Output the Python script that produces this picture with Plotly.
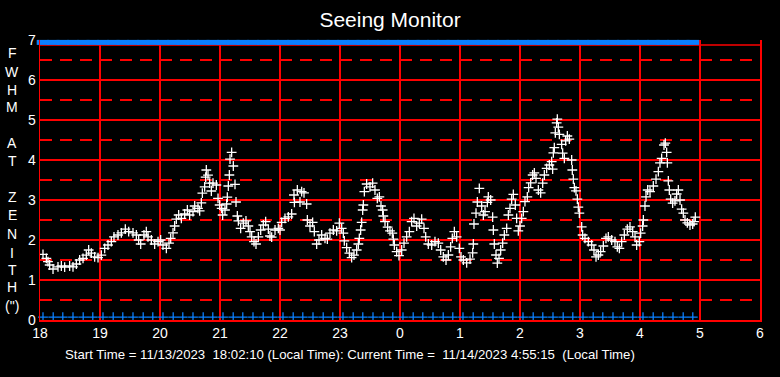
import plotly.graph_objects as go

# FWHM samples: time in hours since 18:00 on 11/13 (24+ = next day), value in arcsec
times = [
    18.05, 18.106, 18.133, 18.161, 18.217, 18.30, 18.356, 18.411, 18.494, 18.55,
    18.606, 18.661, 18.717, 18.772, 18.811, 18.856, 18.911, 18.967, 19.022, 19.078,
    19.133, 19.189, 19.233, 19.30, 19.356, 19.422, 19.478, 19.55, 19.606, 19.644,
    19.678, 19.733, 19.772, 19.80, 19.856, 19.911, 19.967, 20.011, 20.05, 20.106,
    20.15, 20.178, 20.217, 20.244, 20.272, 20.311, 20.356, 20.411, 20.456, 20.494,
    20.55, 20.578, 20.633, 20.661, 20.689, 20.706, 20.744, 20.761, 20.772, 20.80,
    20.828, 20.856, 20.883, 20.939, 20.967, 20.994,
    21.194, 21.167, 21.222, 21.156, 21.139, 21.25, 21.122, 21.111, 21.267, 21.028,
    21.083, 21.044, 21.289, 21.306, 21.344, 21.389, 21.433, 21.472, 21.50, 21.528,
    21.567, 21.60, 21.639, 21.678, 21.722, 21.761, 21.806, 21.833, 21.861, 21.917,
    21.972, 22.0, 22.028, 22.083, 22.139, 22.194, 22.233, 22.24, 22.289, 22.333,
    22.361, 22.40, 22.444, 22.456, 22.50, 22.544, 22.572, 22.611, 22.65, 22.694,
    22.75, 22.789, 22.833, 22.889, 22.944, 22.989, 23.028, 23.056, 23.072, 23.111,
    23.156, 23.194, 23.233, 23.278, 23.306, 23.322, 23.344, 23.361, 23.378, 23.389,
    23.406, 23.444, 23.50, 23.544, 23.583, 23.622, 23.656, 23.683, 23.711, 23.722,
    23.75, 23.794, 23.833, 23.872, 23.889, 23.906, 23.944, 23.983,
    24.028, 24.067, 24.111, 24.156, 24.194, 24.233, 24.278, 24.322, 24.361, 24.40,
    24.428, 24.472, 24.528, 24.583, 24.639, 24.678, 24.722, 24.767, 24.806, 24.844,
    24.872, 24.906, 24.944, 24.989, 25.017, 25.056, 25.111, 25.167, 25.211, 25.222,
    25.233, 25.267, 25.289, 25.322, 25.361, 25.389, 25.417, 25.456, 25.472, 25.511,
    25.544, 25.556, 25.572, 25.60, 25.622, 25.65, 25.678, 25.711, 25.739, 25.778,
    25.806, 25.833, 25.861, 25.889, 25.922, 25.944, 25.972, 26.0, 26.028, 26.056,
    26.083, 26.122, 26.144, 26.178, 26.211, 26.239, 26.267, 26.306, 26.344, 26.378,
    26.406, 26.444, 26.489, 26.528, 26.544, 26.556, 26.572, 26.589, 26.611, 26.622,
    26.639, 26.656, 26.694, 26.711, 26.739, 26.761, 26.789, 26.822, 26.861, 26.872,
    26.889, 26.906, 26.933, 26.956, 26.972, 26.989,
    27.028, 27.044, 27.083, 27.139, 27.194, 27.233, 27.267, 27.306, 27.344, 27.389,
    27.433, 27.472, 27.528, 27.583, 27.622, 27.656, 27.694, 27.739, 27.789, 27.833,
    27.878, 27.917, 27.944, 27.989, 28.011, 28.044, 28.056, 28.083, 28.10, 28.128,
    28.167, 28.222, 28.267, 28.306, 28.333, 28.361, 28.40, 28.422, 28.444, 28.456,
    28.472, 28.489, 28.511, 28.544, 28.583, 28.611, 28.639, 28.667, 28.694, 28.722,
    28.75, 28.789, 28.833, 28.878, 28.90, 28.922,
]
fwhm = [
    1.64, 1.54, 1.46, 1.375, 1.275, 1.33, 1.35, 1.32, 1.35, 1.33,
    1.40, 1.50, 1.54, 1.62, 1.75, 1.67, 1.58, 1.56, 1.62, 1.79,
    1.875, 1.96, 2.08, 2.125, 2.18, 2.27, 2.21, 2.18, 2.125, 2.0,
    1.90, 2.125, 2.21, 2.08, 2.0, 1.90, 1.96, 2.0, 1.875, 1.79,
    1.92, 2.04, 2.18, 2.35, 2.52, 2.625, 2.54, 2.65, 2.75, 2.625,
    2.71, 2.85, 2.79, 2.73, 2.93, 3.17, 3.33, 3.57, 3.75, 3.62,
    3.42, 3.225, 3.42, 3.375, 3.04, 2.875,
    4.19, 4.02, 3.85, 3.625, 3.35, 3.39, 3.07, 2.90, 2.95, 2.79,
    2.75, 2.625, 2.60, 2.48, 2.29, 2.42, 2.48, 2.35, 2.21, 2.08,
    1.96, 1.90, 2.08, 2.25, 2.375, 2.46, 2.27, 2.10, 2.07, 2.25,
    2.29, 2.25, 2.44, 2.54, 2.58, 2.65, 3.125, 2.94, 3.25, 2.95,
    3.21, 3.18, 2.90, 2.50, 2.35, 2.44, 2.21, 1.90, 2.0, 2.125,
    2.04, 2.02, 2.17, 2.25, 2.23, 2.42, 2.29, 2.17, 1.98, 1.81,
    1.67, 1.56, 1.62, 1.75, 1.90, 2.04, 2.25, 2.44, 2.75, 2.875,
    3.21, 3.40, 3.33, 3.42, 3.25, 3.04, 3.08, 2.85, 2.75, 2.60,
    2.46, 2.32, 2.23, 2.17, 2.02, 1.875, 1.71, 1.61,
    1.75, 1.92, 2.08, 2.21, 2.46, 2.54, 2.35, 2.42, 2.52, 2.29,
    2.08, 1.90, 1.875, 1.96, 1.92, 1.75, 1.58, 1.50, 1.625, 1.83,
    2.04, 2.21, 2.08, 1.79, 1.58, 1.50, 1.43, 1.52, 1.68, 1.90,
    2.40, 2.67, 2.95, 3.29, 2.85, 2.625, 2.71, 2.94, 3.08, 3.0,
    2.57, 2.25, 1.90, 1.625, 1.42, 1.54, 1.75, 1.92, 2.125, 2.29,
    2.625, 2.79, 3.02, 3.14, 2.875, 2.54, 2.23, 2.35, 2.54, 2.71,
    2.96, 3.08, 3.31, 3.43, 3.625, 3.68, 3.54, 3.25, 3.18, 3.42,
    3.625, 3.79, 3.875, 3.96, 3.77, 4.18, 4.31, 4.68, 4.93, 5.02,
    4.82, 4.64, 4.39, 4.17, 4.04, 4.48, 4.60, 4.52, 4.0, 3.75,
    3.52, 3.31, 3.23, 3.02, 2.82, 2.67,
    2.33, 2.125, 2.04, 1.96, 1.875, 1.75, 1.58, 1.625, 1.71, 1.85,
    2.04, 2.08, 2.0, 1.96, 1.83, 1.79, 1.96, 2.125, 2.27, 2.33,
    2.21, 2.08, 1.875, 1.96, 2.17, 2.35, 2.50, 2.85, 3.08, 3.25,
    3.21, 3.35, 3.52, 3.71, 3.93, 4.04, 4.375, 4.42, 4.19, 3.93,
    3.48, 3.25, 3.02, 2.92, 2.98, 3.15, 3.25, 3.0, 2.77, 2.67,
    2.50, 2.43, 2.375, 2.40, 2.46, 2.57,
]

# 10-minute status markers (blue)
status_times = [
    18.05, 18.22, 18.38, 18.55, 18.72, 18.88,
    19.05, 19.22, 19.38, 19.55, 19.72, 19.88,
    20.05, 20.22, 20.38, 20.55, 20.72, 20.88,
    21.05, 21.22, 21.38, 21.55, 21.72, 21.88,
    22.05, 22.22, 22.38, 22.55, 22.72, 22.88,
    23.05, 23.22, 23.38, 23.55, 23.72, 23.88,
    24.05, 24.22, 24.38, 24.55, 24.72, 24.88,
    25.05, 25.22, 25.38, 25.55, 25.72, 25.88,
    26.05, 26.22, 26.38, 26.55, 26.72, 26.88,
    27.05, 27.22, 27.38, 27.55, 27.72, 27.88,
    28.05, 28.22, 28.38, 28.55, 28.72, 28.88,
]
status_top_level = 6.94
status_bottom_level = 0.07
frame_top_level = 6.875

x_tick_vals = [18, 19, 20, 21, 22, 23, 24, 25, 26, 27, 28, 29, 30]
x_tick_text = ["18", "19", "20", "21", "22", "23", "0", "1", "2", "3", "4", "5", "6"]
y_tick_vals = [0, 1, 2, 3, 4, 5, 6, 7]
y_tick_text = ["0", "1", "2", "3", "4", "5", "6", "7"]
y_label_letters = ["F", "W", "H", "M", "A", "T", "Z", "E", "N", "I", "T", "H", '(")']
y_label_px = [53, 71.5, 90, 107, 143, 161, 197, 215, 234, 252.7, 270, 287, 306]

title_text = "Seeing Monitor"
footer_text = ("Start Time = 11/13/2023\u00a0\u00a018:02:10 (Local Time): Current Time =\u00a0\u00a0"
               "11/14/2023 4:55:15\u00a0\u00a0(Local Time)")

FONT = "Arial, Liberation Sans, sans-serif"
RED = "#FF0000"
BLUE = "#0A80FF"

W, H = 780, 377
ML, MR, MT, MB = 40, 20, 40, 57
PW = W - ML - MR
PH = H - MT - MB


def px_x(page_x):
    return (page_x - ML) / PW


def px_y(page_y):
    return (H - MB - page_y) / PH


fig = go.Figure()

fig.add_trace(go.Scatter(
    x=status_times, y=[status_top_level] * len(status_times), mode="markers",
    marker=dict(symbol="line-ew-open", size=9, color=BLUE, line=dict(color=BLUE, width=5)),
    cliponaxis=False, hoverinfo="skip", showlegend=False))
fig.add_trace(go.Scatter(
    x=status_times, y=[status_bottom_level] * len(status_times), mode="markers",
    marker=dict(symbol="cross-thin-open", size=7, color=BLUE, line=dict(color=BLUE, width=1.3)),
    cliponaxis=False, hoverinfo="skip", showlegend=False))
fig.add_trace(go.Scatter(
    x=times, y=fwhm, mode="markers",
    marker=dict(symbol="cross-thin-open", size=7, color="white", line=dict(color="white", width=1.3)),
    showlegend=False))

annotations = []
for letter, ypx in zip(y_label_letters, y_label_px):
    annotations.append(dict(
        text=letter, xref="paper", yref="paper",
        x=px_x(12), y=px_y(ypx),
        xanchor="center", yanchor="middle", showarrow=False,
        font=dict(family=FONT, size=14, color="white")))
annotations.append(dict(
    text=footer_text, xref="paper", yref="paper", x=px_x(63), y=px_y(354),
    xanchor="left", yanchor="middle", showarrow=False,
    font=dict(family=FONT, size=13.2, color="white")))

fig.update_layout(
    width=W, height=H,
    margin=dict(l=ML, r=MR, t=MT, b=MB),
    paper_bgcolor="black", plot_bgcolor="black",
    title=dict(text=title_text, x=0.5, xanchor="center",
               y=1 - 20 / H, yanchor="middle",
               font=dict(family=FONT, size=21, color="white")),
    xaxis=dict(range=[18, 30], tickvals=x_tick_vals, ticktext=x_tick_text,
               showgrid=True, gridcolor=RED, gridwidth=1.3,
               showline=True, linecolor=RED, linewidth=1.5, mirror=False,
               zeroline=False, ticks="", fixedrange=True,
               tickfont=dict(family=FONT, size=14, color="white")),
    yaxis=dict(range=[0, 7], tickvals=y_tick_vals, ticktext=y_tick_text,
               showgrid=True, gridcolor=RED, gridwidth=1.3,
               minor=dict(dtick=0.5, tick0=0.5, showgrid=True, gridcolor=RED,
                          gridwidth=1.3, griddash="12px,8px"),
               showline=True, linecolor=RED, linewidth=1.5, mirror=True,
               zeroline=False, ticks="", fixedrange=True,
               tickfont=dict(family=FONT, size=14, color="white")),
    shapes=[dict(type="line", xref="paper", yref="y", x0=0, x1=1,
                 y0=frame_top_level, y1=frame_top_level,
                 line=dict(color=RED, width=1.5), layer="below")],
    annotations=annotations,
    showlegend=False,
    hovermode=False,
)

fig.write_html("out.html", config={"displayModeBar": False, "staticPlot": True},
               post_script="document.body.style.margin='0';")
